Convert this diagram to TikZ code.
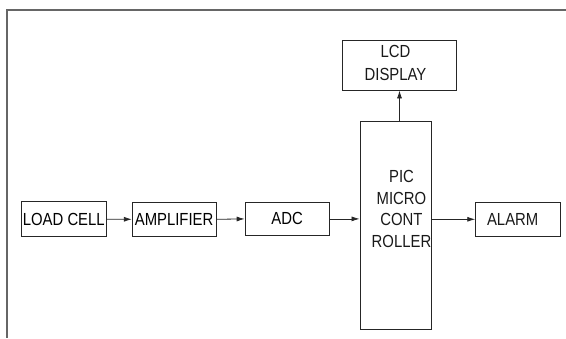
\documentclass[tikz,border=0pt]{standalone}
\usepackage{fontspec}
\setmainfont[FakeStretch=0.85]{Liberation Sans}
\usetikzlibrary{arrows.meta}
\begin{document}
\begin{tikzpicture}[x=1pt,y=-1pt,
  blk/.style={draw=black!85,line width=0.8pt,inner sep=0pt,font=\fontsize{17.5}{21.5}\selectfont,align=center},
  txt/.style={inner sep=0pt,font=\fontsize{17.5}{21.5}\selectfont,align=center,text=black!90},
  conn/.style={draw=black!85,line width=0.8pt,-{Latex[length=8pt,width=5pt]}},
  frame/.style={draw=black!60,line width=2pt}]
\useasboundingbox (0,0) rectangle (566,338);
\coordinate (fc) at (7,10);
\coordinate (fr) at (566,10);
\coordinate (fb) at (7,338);
\draw[frame] (fr) -- (fc) -- (fb);
\node[blk,minimum width=85.7pt,minimum height=35pt] (load) at (63.8,219.2) {LOAD CELL};
\node[blk,minimum width=83.7pt,minimum height=33.3pt] (amp) at (174.1,219.3) {AMPLIFIER};
\node[blk,minimum width=84.3pt,minimum height=32.3pt] (adc) at (287.2,218.9) {ADC};
\node[blk,minimum width=71.7pt,minimum height=208pt] (pic) at (395.8,225) {};
\node[txt] (pict) at (401.5,209.2) {PIC\\MICRO\\CONT\\ROLLER};
\node[blk,minimum width=114.4pt,minimum height=50pt] (lcd) at (399.5,65) {};
\node[txt,font=\fontsize{17.5}{23}\selectfont] (lcdt) at (395.5,63.3) {LCD\\DISPLAY};
\node[blk,minimum width=84.3pt,minimum height=33.3pt] (alarm) at (517.8,219.3) {};
\node[txt] (alarmt) at (512.7,219.3) {ALARM};
\draw[conn] (load.east) -- (amp.west);
\draw[conn] (amp.east) -- (adc.west);
\draw[conn] (adc.east) -- (adc.east -| pic.west);
\draw[conn] (alarm.west -| pic.east) -- (alarm.west);
\draw[conn] (lcd.south |- pic.north) -- (lcd.south);
\end{tikzpicture}
\end{document}
